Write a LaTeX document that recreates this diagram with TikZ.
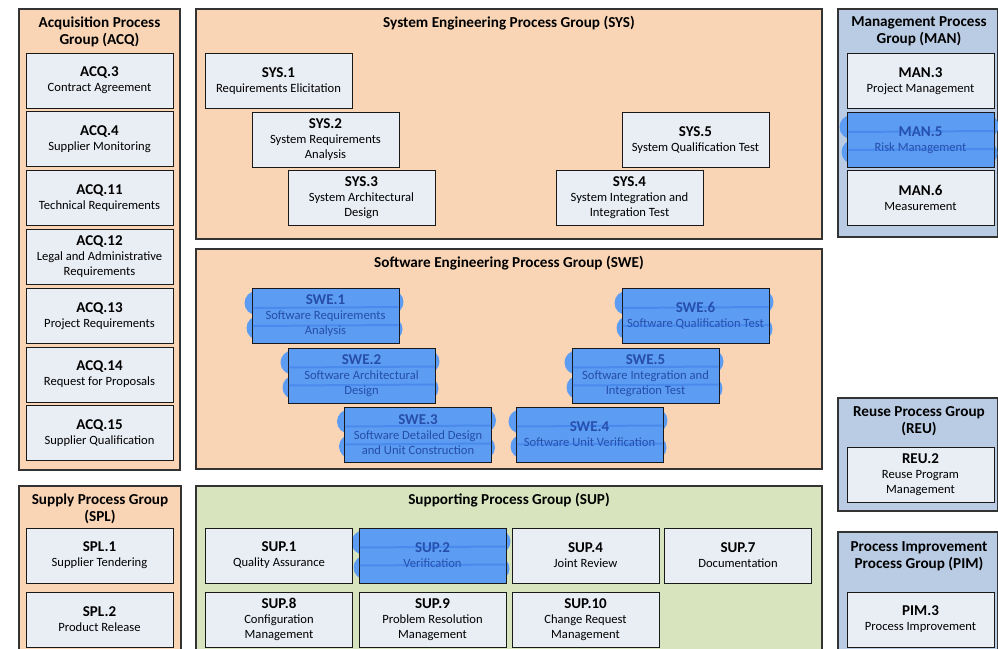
\documentclass[tikz,border=0pt]{standalone}
\usepackage{fontspec}
\setmainfont{Carlito}
\usepackage{xcolor}
\usetikzlibrary{positioning}

\definecolor{grporange}{RGB}{250,213,181}
\definecolor{grpgreen}{RGB}{216,228,189}
\definecolor{grpblue}{RGB}{186,204,228}
\definecolor{boxfill}{RGB}{233,237,244}
\definecolor{hlfill}{RGB}{92,156,242}
\definecolor{hlstroke}{RGB}{40,105,226}
\definecolor{hltext}{RGB}{38,78,168}

\newcommand{\pid}[1]{{\bfseries\fontsize{15}{15}\selectfont #1}}
% highlighter: brush overhang behind a box centred at (#1,#2)
\newcommand{\hlunder}[2]{%
  \draw[brush] ({#1-69},{#2-13}) -- ({#1+66},{#2-14});
  \draw[brush] ({#1-67},{#2+12}) -- ({#1+65},{#2+13});}
% highlighter: darker stroke edges over the box
\newcommand{\hlover}[2]{%
  \draw[brushedge] ({#1-73},{#2-8}) -- ({#1+73},{#2-9});
  \draw[brushedge] ({#1-73},{#2+10}) -- ({#1+73},{#2+9});}

\begin{document}
\begin{tikzpicture}[x=1pt, y=-1pt,
  grp/.style={draw=black!80, line width=1.1pt},
  grptitle/.style={font=\bfseries\fontsize{15.2}{17}\selectfont, align=center, inner sep=0pt},
  proc/.style={draw=black!90, line width=1pt, fill=boxfill, minimum width=147pt,
    minimum height=55pt, align=center, inner sep=1pt, font=\fontsize{12.6}{15}\selectfont},
  hlproc/.style={proc, fill=hlfill, text=hltext},
  brush/.style={draw=hlfill, line width=24pt, line cap=round},
  brushedge/.style={draw=hlstroke, line width=2pt, opacity=0.35}]
\useasboundingbox (0,0) rectangle (998,648);
\fill[white] (0,0) rectangle (998,648);
\clip (0,0) rectangle (998,648);

% ================= left column: ACQ and SPL =================
\filldraw[grp, fill=grporange] (19,9) rectangle (180,470);
\node[grptitle] (acqT) at (99.5,31.5) {Acquisition Process\\Group (ACQ)};
\foreach \n/\txt [count=\i] in {3/{Contract Agreement}, 4/{Supplier Monitoring},
    11/{Technical Requirements}, 12/{Legal and Administrative\\Requirements},
    13/{Project Requirements}, 14/{Request for Proposals}, 15/{Supplier Qualification}}
  \node[proc] (acq\n) at (99.5, {80.5+(\i-1)*58.8}) {\pid{ACQ.\n}\\\txt};

\filldraw[grp, fill=grporange] (19,486) rectangle (181,660);
\node[grptitle] (splT) at (100,508.5) {Supply Process Group\\(SPL)};
\node[proc] (spl1) at (99.5,555.5) {\pid{SPL.1}\\Supplier Tendering};
\node[proc] (spl2) at (99.5,619.5) {\pid{SPL.2}\\Product Release};

% ================= middle: SYS, SWE, SUP =================
\filldraw[grp, fill=grporange] (196,9) rectangle (822,239);
\node[grptitle] (sysT) at (509,23) {System Engineering Process Group (SYS)};
\node[proc] (sys1) at (278.5,81) {\pid{SYS.1}\\Requirements Elicitation};
\node[proc] (sys2) at (325.5,140) {\pid{SYS.2}\\System Requirements\\Analysis};
\node[proc] (sys3) at (361.5,198) {\pid{SYS.3}\\System Architectural\\Design};
\node[proc] (sys4) at (629.5,198) {\pid{SYS.4}\\System Integration and\\Integration Test};
\node[proc] (sys5) at (695.5,140) {\pid{SYS.5}\\System Qualification Test};

\filldraw[grp, fill=grporange] (196,249) rectangle (822,469);
\node[grptitle] (sweT) at (509,263) {Software Engineering Process Group (SWE)};
\foreach \x/\y in {325.5/316, 361.5/375.5, 418/434.5, 589.5/434.5, 645.5/375.5, 695.5/316}
  { \hlunder{\x}{\y} }
\node[hlproc] (swe1) at (325.5,316) {\pid{SWE.1}\\Software Requirements\\Analysis};
\node[hlproc] (swe2) at (361.5,375.5) {\pid{SWE.2}\\Software Architectural\\Design};
\node[hlproc] (swe3) at (418,434.5) {\pid{SWE.3}\\Software Detailed Design\\and Unit Construction};
\node[hlproc] (swe4) at (589.5,434.5) {\pid{SWE.4}\\Software Unit Verification};
\node[hlproc] (swe5) at (645.5,375.5) {\pid{SWE.5}\\Software Integration and\\Integration Test};
\node[hlproc] (swe6) at (695.5,316) {\pid{SWE.6}\\Software Qualification Test};

\filldraw[grp, fill=grpgreen] (196,486) rectangle (822,660);
\node[grptitle] (supT) at (509,500) {Supporting Process Group (SUP)};
\hlunder{432.5}{555.5}
\node[proc] (sup1) at (279,555.5) {\pid{SUP.1}\\Quality Assurance};
\node[hlproc] (sup2) at (432.5,555.5) {\pid{SUP.2}\\Verification};
\node[proc] (sup4) at (585.5,555.5) {\pid{SUP.4}\\Joint Review};
\node[proc] (sup7) at (738,555.5) {\pid{SUP.7}\\Documentation};
\node[proc] (sup8) at (279,619.5) {\pid{SUP.8}\\Configuration\\Management};
\node[proc] (sup9) at (432.5,619.5) {\pid{SUP.9}\\Problem Resolution\\Management};
\node[proc] (sup10) at (585.5,619.5) {\pid{SUP.10}\\Change Request\\Management};

% ================= right column: MAN, REU, PIM =================
\filldraw[grp, fill=grpblue] (838,9) rectangle (997.5,237);
\node[grptitle] (manT) at (919,31.5) {Management Process\\Group (MAN)};
\hlunder{920.5}{140}
\node[proc] (man3) at (920.5,81) {\pid{MAN.3}\\Project Management};
\node[hlproc] (man5) at (920.5,140) {\pid{MAN.5}\\Risk Management};
\node[proc] (man6) at (920.5,198) {\pid{MAN.6}\\Measurement};

\filldraw[grp, fill=grpblue] (838,398) rectangle (997.5,511);
\node[grptitle] (reuT) at (919,421) {Reuse Process Group\\(REU)};
\node[proc] (reu2) at (920.5,475) {\pid{REU.2}\\Reuse Program\\Management};

\filldraw[grp, fill=grpblue] (838,532) rectangle (997.5,660);
\node[grptitle] (pimT) at (919,556) {Process Improvement\\Process Group (PIM)};
\node[proc] (pim3) at (920.5,619.5) {\pid{PIM.3}\\Process Improvement};

% ---------- highlighter stroke edges ----------
\foreach \x/\y in {325.5/316, 361.5/375.5, 418/434.5, 589.5/434.5, 645.5/375.5,
    695.5/316, 432.5/555.5, 920.5/140}
  { \hlover{\x}{\y} }

\end{tikzpicture}
\end{document}
